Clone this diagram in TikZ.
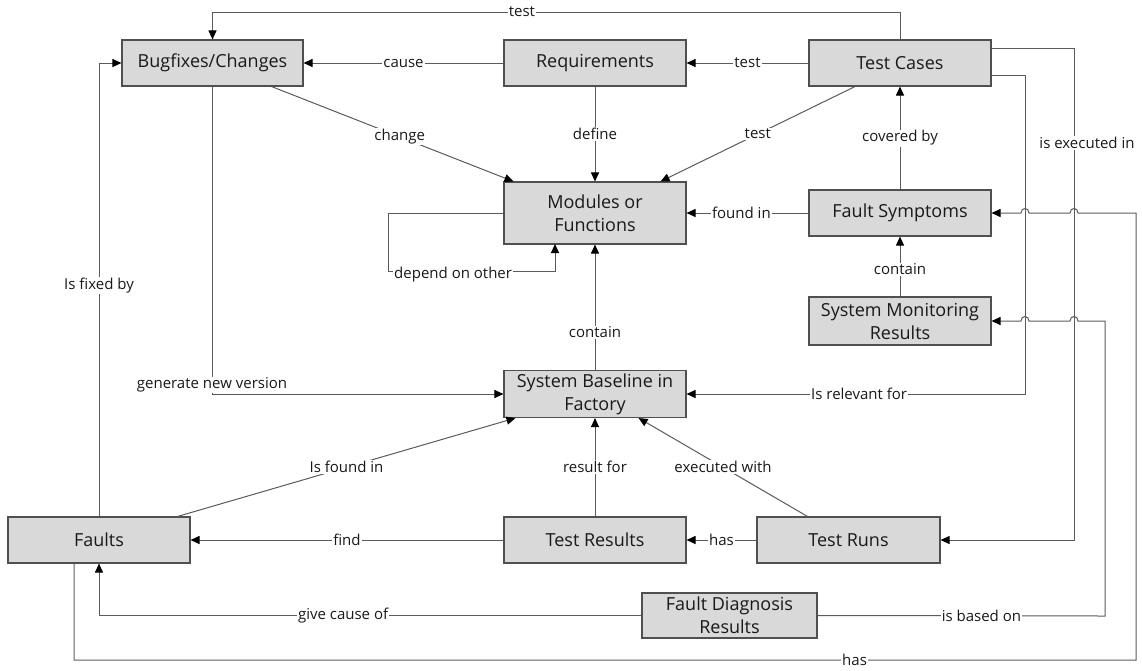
\documentclass[tikz,border=0pt]{standalone}
\usepackage{fontspec}
\setmainfont{Open Sans}
\usetikzlibrary{arrows.meta}
\definecolor{boxfill}{HTML}{D9D9D9}
\definecolor{boxline}{HTML}{505050}
\definecolor{conn}{HTML}{5A5A5A}
\begin{document}
\begin{tikzpicture}[x=1pt,y=-1pt,
  box/.style={draw=boxline,fill=boxfill,line width=1.1pt,minimum width=182pt,minimum height=46pt,
    align=center,inner sep=1pt,font=\fontsize{18}{23}\selectfont,text=black!90},
  conline/.style={draw=conn,line width=1pt,-{Triangle[length=9pt,width=8pt,black]}},
  lbl/.style={fill=white,inner sep=1pt,font=\fontsize{15}{17}\selectfont,text=black!90}]
\useasboundingbox (0,0) rectangle (1142,670);
% nodes
\node[box,minimum width=181pt] (bf) at (212.5,63) {Bugfixes/Changes};
\node[box] (req) at (595,63) {Requirements};
\node[box] (tc) at (900,63) {Test Cases};
\node[box,minimum height=62pt] (mod) at (595,213) {Modules or\\Functions};
\node[box] (fs) at (900,213) {Fault Symptoms};
\node[box,minimum height=48pt] (smr) at (900,321) {System Monitoring\\Results};
\node[box,minimum height=47pt] (sb) at (595,394) {System Baseline in\\Factory};
\node[box] (fa) at (99,540) {Faults};
\node[box] (tr) at (595,540) {Test Results};
\node[box,minimum width=183pt] (trun) at (848.5,540) {Test Runs};
\node[box,minimum width=175pt,minimum height=45pt] (fdr) at (729.5,615.5) {Fault Diagnosis\\Results};
% connectors
\draw[conline] (tc.north) -- (tc.north |- 0,12) -- node[lbl,pos=0.55]{test} (bf.north |- 0,12) -- (bf.north);
\draw[conline] (fa.north) -- node[lbl,pos=0.51]{Is fixed by} (fa.north |- bf.west) -- (bf.west);
\draw[conline] (req.west) -- node[lbl]{cause} (bf.east);
\draw[conline] (tc.west) -- node[lbl]{test} (req.east);
\draw[conline] ([xshift=-32pt]bf.south east) -- node[lbl,pos=0.53]{change} ([xshift=10pt]mod.north west);
\draw[conline] (req.south) -- node[lbl]{define} (mod.north);
\draw[conline] ([xshift=-45pt]tc.south) -- node[lbl,pos=0.5]{test} ([xshift=-26pt]mod.north east);
\draw[conline] (fs.west) -- node[lbl,pos=0.55]{found in} (mod.east);
\draw[conline] (mod.west) -- (388,213) -- (388,271) -- node[lbl,pos=0.39,yshift=-4pt]{depend on other} (555,271) -- (555,244);
\draw[conline] (fs.north) -- node[lbl]{covered by} (tc.south);
\draw[conline] (smr.north) -- node[lbl,pos=0.45]{contain} (fs.south);
\draw[conline] (sb.north) -- node[lbl,pos=0.3]{contain} (mod.south);
\draw[conline] (bf.south) -- (bf.south |- sb.west) -- (sb.west);
\node[lbl] (gnv) at (212,385) {generate new version};
\draw[conline] ([yshift=-12pt]tc.east) -- (1025,75) -- (1025,394) -- node[lbl,pos=0.49]{Is relevant for} (sb.east);
\draw[conline] ([yshift=15pt]tc.east) -- (1074,48) -- (1074,540) -- (trun.east);
\node[lbl] (iei) at (1087,143) {is executed in};
\draw[conline] (fdr.east) -- node[lbl,pos=0.57]{is based on} (1105,616) -- (1105,321) -- (1078,321)
  .. controls (1078,315) and (1070,315) .. (1070,321) -- (1029,321)
  .. controls (1029,315) and (1021,315) .. (1021,321) -- (smr.east);
\draw[conline] ([xshift=-25pt]fa.south) -- (74,660) -- node[lbl,pos=0.735]{has} (1136,660) -- (1136,213) -- (1078,213)
  .. controls (1078,207) and (1070,207) .. (1070,213) -- (1029,213)
  .. controls (1029,207) and (1021,207) .. (1021,213) -- (fs.east);
\draw[conline] (fdr.west) -- node[lbl,pos=0.55]{give cause of} (fa.south |- fdr.west) -- (fa.south);
\draw[conline] (tr.west) -- node[lbl]{find} (fa.east);
\draw[conline] (trun.west) -- node[lbl]{has} (tr.east);
\draw[conline] (tr.north) -- node[lbl]{result for} (sb.south);
\draw[conline] ([xshift=-41pt]trun.north) -- node[lbl]{executed with} ([xshift=-48pt]sb.south east);
\draw[conline] ([xshift=-13pt]fa.north east) -- node[lbl]{Is found in} ([xshift=12pt]sb.south west);
\end{tikzpicture}
\end{document}
